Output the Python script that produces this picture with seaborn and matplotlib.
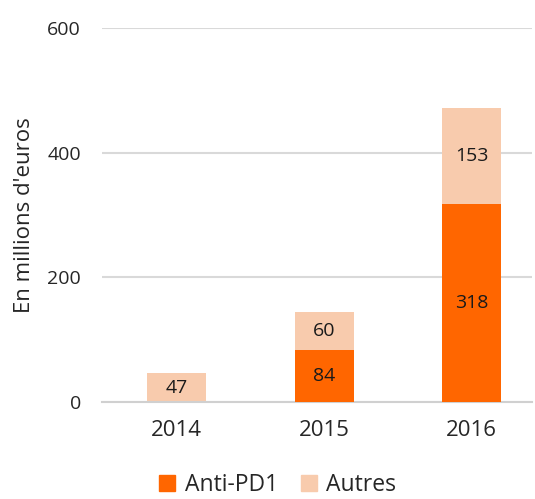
import numpy as np
import pandas as pd
import matplotlib
matplotlib.use("Agg")
import matplotlib.pyplot as plt
import seaborn as sns
from matplotlib.patches import Patch

years = ["2014", "2015", "2016"]
antiPD1 = [0, 84, 318]
autres = [47, 60, 153]

darkOrange = "#FF6600"
lightOrange = "#F8CBAD"

sns.set_style("white")
plt.rcParams['font.family'] = ['Open Sans', 'DejaVu Sans']

df = pd.DataFrame({'year': years, 'Anti-PD1': antiPD1, 'Autres': autres})
df['total'] = df['Anti-PD1'] + df['Autres']

fig = plt.figure(figsize=(5.35, 4.99), dpi=100)
ax = fig.add_axes([0.19, 0.194, 0.804, 0.75])

# stacked: totals first, anti-PD1 over them
sns.barplot(data=df, x='year', y='total', color=lightOrange, width=0.4,
            saturation=1, linewidth=0, ax=ax, zorder=2)
sns.barplot(data=df, x='year', y='Anti-PD1', color=darkOrange, width=0.4,
            saturation=1, linewidth=0, ax=ax, zorder=3)

for i, row in df.iterrows():
    if row['Anti-PD1'] > 0:
        ax.text(i, row['Anti-PD1'] / 2, str(row['Anti-PD1']), ha='center',
                va='center', fontsize=14, color='#1a1a1a', zorder=4)
    ax.text(i, row['Anti-PD1'] + row['Autres'] / 2, str(row['Autres']),
            ha='center', va='center', fontsize=14, color='#1a1a1a', zorder=4)

ax.set_ylim(0, 600)
ax.set_yticks([0, 200, 400, 600])
ax.set_xlim(-0.51, 2.41)
ax.yaxis.grid(True, color='#D9D9D9', linewidth=1.5, zorder=0)
ax.set_axisbelow(True)
for s in ['top', 'right', 'left']:
    ax.spines[s].set_visible(False)
ax.spines['bottom'].set_color('#D0D0D0')
ax.spines['bottom'].set_linewidth(1.5)
ax.tick_params(axis='both', length=0, colors='#262626')
ax.tick_params(axis='y', pad=15, labelsize=14)
ax.tick_params(axis='x', pad=13, labelsize=16)
ax.set_xlabel('')
ax.set_ylabel("En millions d'euros", fontsize=16, color='#262626')
ax.yaxis.set_label_coords(-0.155, 0.5)

handles = [Patch(color=darkOrange, label='Anti-PD1'),
           Patch(color=lightOrange, label='Autres')]
fig.legend(handles=handles, loc='lower center', ncol=2, frameon=False,
           fontsize=16.5, bbox_to_anchor=(0.519, -0.037), handlelength=0.7,
           handleheight=0.7, handletextpad=0.4, columnspacing=1.0)

fig.savefig('out.png', dpi=100)
